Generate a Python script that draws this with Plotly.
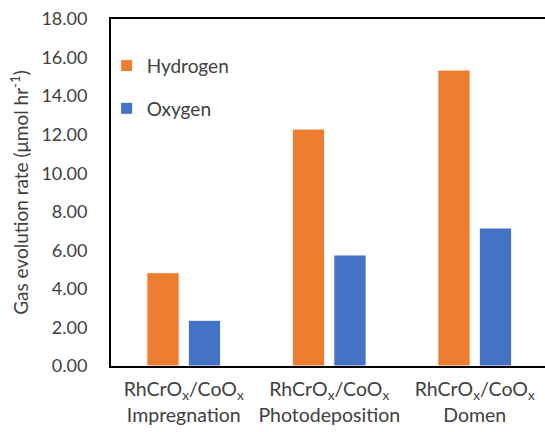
import plotly.graph_objects as go

# Photocatalytic gas evolution for three cocatalyst loading methods
methods = [
    "RhCrO<sub>x</sub>/CoO<sub>x</sub><br>Impregnation",
    "RhCrO<sub>x</sub>/CoO<sub>x</sub><br>Photodeposition",
    "RhCrO<sub>x</sub>/CoO<sub>x</sub><br>Domen",
]
hydrogen = [4.84, 12.29, 15.35]
oxygen = [2.37, 5.76, 7.16]
y_ticks = [0, 2, 4, 6, 8, 10, 12, 14, 16, 18]

FONT = "Lato"
TEXT = "#404040"

fig = go.Figure()
fig.add_trace(go.Bar(
    name="Hydrogen", x=[0, 1, 2], y=hydrogen,
    marker=dict(color="#ED7D31", line=dict(color="white", width=1)),
    legendgroup="h2",
))
fig.add_trace(go.Bar(
    name="Oxygen", x=[0, 1, 2], y=oxygen,
    marker=dict(color="#4472C4", line=dict(color="white", width=1)),
    legendgroup="o2",
))

fig.update_layout(
    width=545, height=432,
    margin=dict(l=111, r=0, t=19, b=66),
    paper_bgcolor="white", plot_bgcolor="white",
    barmode="group", bargap=0.43, bargroupgap=0.22,
    font=dict(family=FONT, size=18, color=TEXT),
    showlegend=True,
    legend=dict(
        x=-0.01, y=0.92, xanchor="left", yanchor="top",
        bgcolor="rgba(0,0,0,0)", tracegroupgap=15,
        font=dict(family=FONT, size=19, color=TEXT),
        itemwidth=30,
    ),
)

fig.update_xaxes(
    range=[-0.5, 2.483],
    tickmode="array", tickvals=[0, 1, 2], ticktext=methods,
    showline=True, linecolor="black", linewidth=2, mirror=True,
    ticks="", showgrid=False, zeroline=False,
    ticklabelstandoff=5,
    tickfont=dict(family=FONT, size=19.5, color=TEXT),
)
fig.update_yaxes(
    range=[0, 18],
    tickmode="array", tickvals=y_ticks,
    ticktext=[f"{v:.2f}" for v in y_ticks],
    showline=True, linecolor="black", linewidth=2,
    ticks="", showgrid=False, zeroline=False,
    ticklabelstandoff=18,
    tickfont=dict(family=FONT, size=18, color=TEXT),
    title=dict(
        text="Gas evolution rate (μmol hr<sup>-1</sup>)",
        font=dict(family=FONT, size=19, color=TEXT),
        standoff=8,
    ),
)

fig.write_html("out.html")
